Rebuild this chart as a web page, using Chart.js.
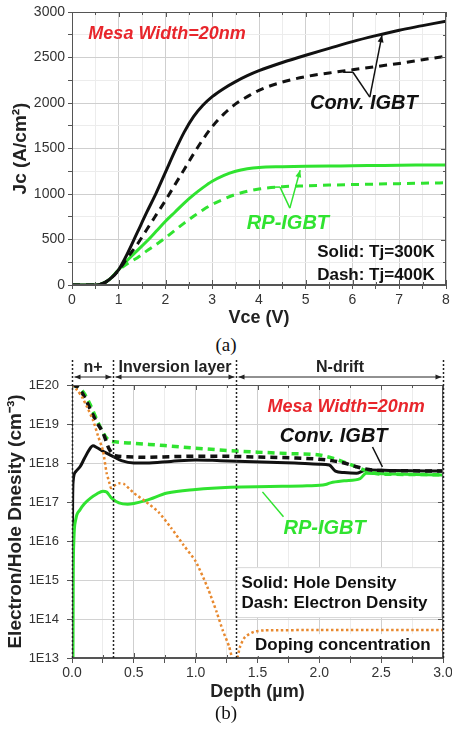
<!DOCTYPE html>
<html>
<head>
<meta charset="utf-8">
<script src="https://cdn.jsdelivr.net/npm/chart.js@4.4.0/dist/chart.umd.min.js"></script>
<style>
  html, body { margin: 0; padding: 0; background: #fff; }
  #wrap { position: relative; width: 452px; height: 732px; overflow: hidden; }
  canvas { position: absolute; left: 0; }
  #ca { top: 0; }
  #cb { top: 350px; }
  .cap { position: absolute; left: 0; width: 452px; text-align: center; line-height: 22px;
         font-family: "Liberation Serif", "DejaVu Serif", serif; font-size: 19px; color: #111; }
</style>
</head>
<body>
<div id="wrap">
  <canvas id="ca" width="452" height="332"></canvas>
  <div class="cap" style="top:334px">(a)</div>
  <canvas id="cb" width="452" height="355"></canvas>
  <div class="cap" style="top:702px">(b)</div>
</div>
<script>
// ---- (a) Jc vs Vce ----
const vce = [0, 0.5, 0.6, 0.8, 1.0, 1.2, 1.4, 1.6, 1.8, 2.0, 2.2, 2.4, 2.6, 2.8, 3.0, 3.25, 3.5, 3.75, 4, 4.5, 5, 5.5, 6, 6.5, 7, 7.5, 8];
const jcConv300 = [0, 0, 5, 60, 170, 360, 580, 800, 1010, 1240, 1470, 1680, 1850, 1975, 2070, 2160, 2235, 2300, 2355, 2445, 2525, 2600, 2675, 2740, 2800, 2850, 2900];
const jcConv400 = [0, 0, 5, 60, 165, 310, 450, 610, 770, 930, 1100, 1270, 1440, 1600, 1740, 1880, 1990, 2070, 2140, 2230, 2290, 2330, 2365, 2400, 2435, 2475, 2515];
const jcRp300 = [0, 0, 5, 60, 170, 280, 380, 480, 590, 700, 800, 900, 990, 1070, 1140, 1205, 1250, 1277, 1292, 1300, 1305, 1308, 1310, 1313, 1316, 1318, 1320];
const jcRp400 = [0, 0, 5, 60, 165, 240, 300, 375, 445, 520, 600, 680, 755, 825, 885, 945, 995, 1030, 1055, 1080, 1090, 1098, 1104, 1109, 1114, 1119, 1123];

// ---- (b) carrier density vs depth ----
const depthConvHole = [0, 0.002, 0.005, 0.01, 0.03, 0.065, 0.1, 0.14, 0.17, 0.2, 0.25, 0.31, 0.4, 0.5, 0.6, 0.8, 1.0, 1.2, 1.4, 1.6, 1.8, 2.0, 2.08, 2.13, 2.2, 2.3, 2.36, 2.4, 2.6, 3.0];
const convHole = [1e13, 1e15, 1e17, 3.6e17, 6e17, 8e17, 1.3e18, 2.2e18, 2.75e18, 2.5e18, 2e18, 1.6e18, 1.15e18, 1.0e18, 1.0e18, 1.1e18, 1.2e18, 1.15e18, 1.1e18, 1.05e18, 1.0e18, 9.3e17, 8.9e17, 6.2e17, 5.7e17, 5.5e17, 6.4e17, 6.6e17, 6.4e17, 6.2e17];
const depthConvElec = [0, 0.05, 0.1, 0.15, 0.2, 0.25, 0.3, 0.35, 0.45, 0.6, 0.8, 1.0, 1.2, 1.4, 1.6, 1.8, 2.0, 2.1, 2.2, 2.3, 2.4, 2.5, 2.7, 3.0];
const convElec = [1e20, 8.5e19, 5e19, 2.3e19, 1.1e19, 6e18, 2.3e18, 1.55e18, 1.45e18, 1.4e18, 1.45e18, 1.5e18, 1.5e18, 1.45e18, 1.4e18, 1.35e18, 1.25e18, 1.15e18, 1e18, 8e17, 6.8e17, 6.4e17, 6.3e17, 6.2e17];
const depthRpHole = [0.008, 0.01, 0.015, 0.03, 0.065, 0.1, 0.15, 0.2, 0.25, 0.28, 0.32, 0.38, 0.45, 0.5, 0.6, 0.77, 1.0, 1.28, 1.6, 1.9, 2.05, 2.09, 2.2, 2.33, 2.38, 2.6, 3.0];
const rpHole = [1e13, 1e15, 1e16, 3.5e16, 6.3e16, 9e16, 1.26e17, 1.6e17, 1.9e17, 1.8e17, 1.26e17, 9.5e16, 8.8e16, 9.2e16, 1.1e17, 1.7e17, 2.1e17, 2.4e17, 2.5e17, 2.6e17, 2.8e17, 3.1e17, 3.5e17, 4e17, 5.5e17, 5.2e17, 4.9e17];
const depthRpElec = [0, 0.05, 0.1, 0.15, 0.2, 0.25, 0.3, 0.35, 0.5, 0.75, 1.0, 1.25, 1.5, 1.75, 2.0, 2.1, 2.2, 2.3, 2.4, 2.5, 2.7, 3.0];
const rpElec = [1e20, 9e19, 6e19, 3e19, 1.3e19, 6e18, 3.8e18, 3.5e18, 3.2e18, 2.8e18, 2.4e18, 2.1e18, 1.9e18, 1.75e18, 1.6e18, 1.35e18, 1.05e18, 8e17, 6e17, 5.2e17, 5.1e17, 5e17];
const depthDoping = [0, 0.04, 0.08, 0.12, 0.17, 0.21, 0.25, 0.28, 0.3, 0.315, 0.33, 0.38, 0.42, 0.5, 0.6, 0.7, 0.8, 0.9, 1.0, 1.1, 1.17, 1.22, 1.27, 1.3, 1.31, 1.33, 1.36, 1.4, 1.47, 1.55, 2.0, 3.0];
const doping = [1e20, 7.5e19, 5e19, 2.8e19, 1.25e19, 5e18, 2.1e18, 5.5e17, 3.3e17, 2.3e17, 2.5e17, 3e17, 2.9e17, 1.7e17, 1e17, 5.5e16, 2.2e16, 8e15, 3e15, 6e14, 1.5e14, 5e13, 2e13, 8e12, 5e12, 8e12, 2e13, 3.5e13, 4.7e13, 5.1e13, 5.2e13, 5.2e13];
const decades = [13, 14, 15, 16, 17, 18, 19, 20];
const regionEdges = [0, 0.33, 1.33, 3.0];
const regionNames = ['n+', 'Inversion layer', 'N-drift'];

const SANS = '"Liberation Sans", Arial, Helvetica, sans-serif';
const BLACK = '#111111', GREEN = '#30e330', ORANGE = '#e8892f', RED = '#e8262c';

const pts = (xs, ys) => xs.map((v, i) => ({x: v, y: ys[i]}));
const near = (v, step) => Math.abs(v / step - Math.round(v / step)) < 1e-6;

function txt(ctx, s, x, y, font, color, align) {
  ctx.font = font; ctx.fillStyle = color;
  ctx.textAlign = align || 'left'; ctx.textBaseline = 'middle';
  ctx.fillText(s, x, y);
}
function line(ctx, a, b, color, w) {
  ctx.strokeStyle = color; ctx.lineWidth = w || 1.5;
  ctx.beginPath(); ctx.moveTo(a[0], a[1]); ctx.lineTo(b[0], b[1]); ctx.stroke();
}
function arrowHead(ctx, from, tip, color, len, half) {
  const ang = Math.atan2(tip[1] - from[1], tip[0] - from[0]);
  const c = Math.cos(ang), s = Math.sin(ang);
  ctx.fillStyle = color;
  ctx.beginPath();
  ctx.moveTo(tip[0], tip[1]);
  ctx.lineTo(tip[0] - len * c + half * s, tip[1] - len * s - half * c);
  ctx.lineTo(tip[0] - len * c - half * s, tip[1] - len * s + half * c);
  ctx.closePath(); ctx.fill();
}

// box around plot + inward ticks on top and right
const frame = {
  id: 'frame',
  afterDatasetsDraw(chart) {
    const {ctx, chartArea: a, scales: {x, y}} = chart;
    ctx.save();
    ctx.strokeStyle = '#555'; ctx.lineWidth = 1;
    ctx.strokeRect(a.left + 0.5, a.top + 0.5, a.width - 1, a.height - 1);
    ctx.beginPath();
    x.ticks.forEach(t => {
      const p = Math.round(x.getPixelForValue(t.value)) + 0.5, len = t.label ? 5 : 3;
      ctx.moveTo(p, a.top); ctx.lineTo(p, a.top + len);
      ctx.moveTo(p, a.bottom); ctx.lineTo(p, a.bottom - len);
    });
    y.ticks.forEach(t => {
      const p = Math.round(y.getPixelForValue(t.value)) + 0.5, len = t.label ? 5 : 3;
      ctx.moveTo(a.right, p); ctx.lineTo(a.right - len, p);
    });
    ctx.stroke();
    ctx.restore();
  }
};

const notesA = {
  id: 'notesA',
  afterDatasetsDraw(chart) {
    const {ctx, scales: {x, y}} = chart;
    const P = (vx, vy) => [x.getPixelForValue(vx), y.getPixelForValue(vy)];
    ctx.save();
    let p = P(0.35, 2760);
    txt(ctx, 'Mesa Width=20nm', p[0], p[1], 'italic bold 18px ' + SANS, RED);
    p = P(5.09, 2000);
    txt(ctx, 'Conv. IGBT', p[0], p[1], 'italic bold 20px ' + SANS, BLACK);
    let v = P(6.37, 2064), l = P(6.01, 2338), l2 = P(5.8, 2338), r = P(6.63, 2744);
    line(ctx, l2, l, BLACK); line(ctx, l, v, BLACK); line(ctx, v, r, BLACK);
    arrowHead(ctx, v, r, BLACK, 7, 3);
    p = P(3.74, 680);
    txt(ctx, 'RP-IGBT', p[0], p[1], 'italic bold 20px ' + SANS, GREEN);
    v = P(4.66, 845); l = P(4.45, 1076); l2 = P(4.3, 1076); r = P(4.88, 1262);
    line(ctx, l2, l, GREEN); line(ctx, l, v, GREEN); line(ctx, v, r, GREEN);
    arrowHead(ctx, v, r, GREEN, 7, 3);
    p = P(7.76, 362);
    txt(ctx, 'Solid: Tj=300K', p[0], p[1], 'bold 17px ' + SANS, BLACK, 'right');
    p = P(7.76, 110);
    txt(ctx, 'Dash: Tj=400K', p[0], p[1], 'bold 17px ' + SANS, BLACK, 'right');
    ctx.restore();
  }
};

const notesB = {
  id: 'notesB',
  afterDatasetsDraw(chart) {
    const {ctx, chartArea: a, scales: {x, y}} = chart;
    const P = (vx, e) => [x.getPixelForValue(vx), y.getPixelForValue(Math.pow(10, e))];
    ctx.save();
    // legend box
    let p0 = P(1.32, 15.33), p1 = P(3.0, 14.05);
    ctx.fillStyle = '#fff';
    ctx.fillRect(p0[0], p0[1], a.right - 1 - p0[0], p1[1] - p0[1]);
    ctx.strokeStyle = '#d8d8d8'; ctx.lineWidth = 1;
    ctx.strokeRect(p0[0] + 0.5, p0[1] + 0.5, a.right - 2 - p0[0], p1[1] - p0[1]);
    let p = P(1.37, 14.92);
    txt(ctx, 'Solid: Hole Density', p[0], p[1], 'bold 17px ' + SANS, BLACK);
    p = P(1.37, 14.41);
    txt(ctx, 'Dash: Electron Density', p[0], p[1], 'bold 17px ' + SANS, BLACK);
    p = P(1.48, 13.33);
    ctx.fillStyle = '#fff';
    ctx.fillRect(p[0] - 4, p[1] - 11, a.right - 1 - (p[0] - 4), 22);
    txt(ctx, 'Doping concentration', p[0], p[1], 'bold 17px ' + SANS, BLACK);
    p = P(1.58, 19.44);
    txt(ctx, 'Mesa Width=20nm', p[0], p[1], 'italic bold 18px ' + SANS, RED);
    p = P(1.68, 18.67);
    txt(ctx, 'Conv. IGBT', p[0], p[1], 'italic bold 20px ' + SANS, BLACK);
    line(ctx, P(2.43, 18.41), P(2.51, 17.9), BLACK);
    p = P(1.71, 16.33);
    txt(ctx, 'RP-IGBT', p[0], p[1], 'italic bold 20px ' + SANS, GREEN);
    line(ctx, P(1.71, 16.62), P(1.54, 17.26), GREEN);
    ctx.restore();
  },
  afterDraw(chart) {
    // region header: dotted boundaries, double arrows, names
    const {ctx, chartArea: a, scales: {x}} = chart;
    const xs = regionEdges.map(v => Math.round(x.getPixelForValue(v)) + 0.5);
    ctx.save();
    ctx.strokeStyle = '#222'; ctx.lineWidth = 1.5; ctx.setLineDash([2, 2]);
    xs.forEach(px => { ctx.beginPath(); ctx.moveTo(px, a.top - 25); ctx.lineTo(px, a.bottom); ctx.stroke(); });
    ctx.setLineDash([]);
    const ay = a.top - 8;
    for (let i = 0; i < regionNames.length; i++) {
      const l = [xs[i] + 2, ay], r = [xs[i + 1] - 2, ay];
      line(ctx, l, r, '#222', 1);
      arrowHead(ctx, r, l, '#222', 6, 2.5);
      arrowHead(ctx, l, r, '#222', 6, 2.5);
      txt(ctx, regionNames[i], (xs[i] + xs[i + 1]) / 2, a.top - 17, 'bold 16px ' + SANS, '#222', 'center');
    }
    ctx.restore();
  }
};

Chart.defaults.font.family = SANS;
Chart.defaults.color = '#333';

const gridColor = step => ctx => (ctx.tick && near(ctx.tick.value, step) ? '#cfcfcf' : '#ececec');
const fixX = s => { s.height = 47; s.paddingLeft = 0; s.paddingRight = 0; };

new Chart(document.getElementById('ca'), {
  type: 'line',
  data: {
    datasets: [
      {data: pts(vce, jcConv300), borderColor: BLACK, borderWidth: 3},
      {data: pts(vce, jcConv400), borderColor: BLACK, borderWidth: 3, borderDash: [8, 6]},
      {data: pts(vce, jcRp300), borderColor: GREEN, borderWidth: 3},
      {data: pts(vce, jcRp400), borderColor: GREEN, borderWidth: 3, borderDash: [8, 6]}
    ]
  },
  options: {
    responsive: false,
    animation: false,
    layout: {padding: {top: 12, right: 6, left: 0, bottom: 0}},
    elements: {point: {radius: 0}, line: {cubicInterpolationMode: 'monotone', fill: false}},
    plugins: {legend: {display: false}, tooltip: {enabled: false}},
    scales: {
      x: {
        type: 'linear', min: 0, max: 8,
        afterFit: fixX,
        ticks: {stepSize: 0.5, autoSkip: false, maxRotation: 0, padding: 3, font: {size: 14},
                callback: v => (near(v, 1) ? String(v) : '')},
        grid: {color: gridColor(1), tickLength: 4, tickColor: '#555'},
        border: {color: '#555'},
        title: {display: true, text: 'Vce (V)', color: '#222', font: {size: 18, weight: 'bold'}, padding: {top: 0, bottom: 3}}
      },
      y: {
        min: 0, max: 3000,
        afterFit: s => { s.width = 72; },
        ticks: {stepSize: 250, autoSkip: false, padding: 3, font: {size: 14},
                callback: v => (near(v, 500) ? String(v) : '')},
        grid: {color: gridColor(500), tickLength: 4, tickColor: '#555'},
        border: {color: '#555'},
        title: {display: true, text: 'Jc (A/cm²)', color: '#222', font: {size: 19, weight: 'bold'}, padding: {top: 9, bottom: 0}}
      }
    }
  },
  plugins: [frame, notesA]
});

new Chart(document.getElementById('cb'), {
  type: 'line',
  data: {
    datasets: [
      {data: pts(depthDoping, doping), borderColor: ORANGE, borderWidth: 2.5, borderDash: [2.5, 2.5], cubicInterpolationMode: 'default', tension: 0.2},
      {data: pts(depthConvElec, convElec), borderColor: BLACK, borderWidth: 3.5, borderDash: [7, 5]},
      {data: pts(depthRpElec, rpElec), borderColor: GREEN, borderWidth: 3.5, borderDash: [7, 5]},
      {data: pts(depthRpHole, rpHole), borderColor: GREEN, borderWidth: 3},
      {data: pts(depthConvHole, convHole), borderColor: BLACK, borderWidth: 3}
    ]
  },
  options: {
    responsive: false,
    animation: false,
    layout: {padding: {top: 35, right: 9, left: 0, bottom: 0}},
    elements: {point: {radius: 0}, line: {cubicInterpolationMode: 'monotone', fill: false}},
    plugins: {legend: {display: false}, tooltip: {enabled: false}},
    scales: {
      x: {
        type: 'linear', min: 0, max: 3,
        afterFit: fixX,
        ticks: {stepSize: 0.25, autoSkip: false, maxRotation: 0, padding: 2, font: {size: 14},
                callback: v => (near(v, 0.5) ? v.toFixed(1) : '')},
        grid: {color: gridColor(0.5), tickLength: 5, tickColor: '#555'},
        border: {color: '#555'},
        title: {display: true, text: 'Depth (µm)', color: '#222', font: {size: 18, weight: 'bold'}, padding: {top: 0, bottom: 2}}
      },
      y: {
        type: 'logarithmic', min: 1e13, max: 1e20,
        afterFit: s => { s.width = 72; },
        afterBuildTicks: s => { s.ticks = decades.map(e => ({value: Math.pow(10, e)})); },
        ticks: {autoSkip: false, padding: 8, font: {size: 13},
                callback: v => '1E' + Math.round(Math.log10(v))},
        grid: {color: '#d2d2d2', tickLength: 5, tickColor: '#555'},
        border: {color: '#555'},
        title: {display: true, text: 'Electron/Hole Dnesity (cm⁻³)', color: '#222', font: {size: 19, weight: 'bold'}, padding: {top: 4, bottom: 0}}
      }
    }
  },
  plugins: [frame, notesB]
});
</script>
</body>
</html>
